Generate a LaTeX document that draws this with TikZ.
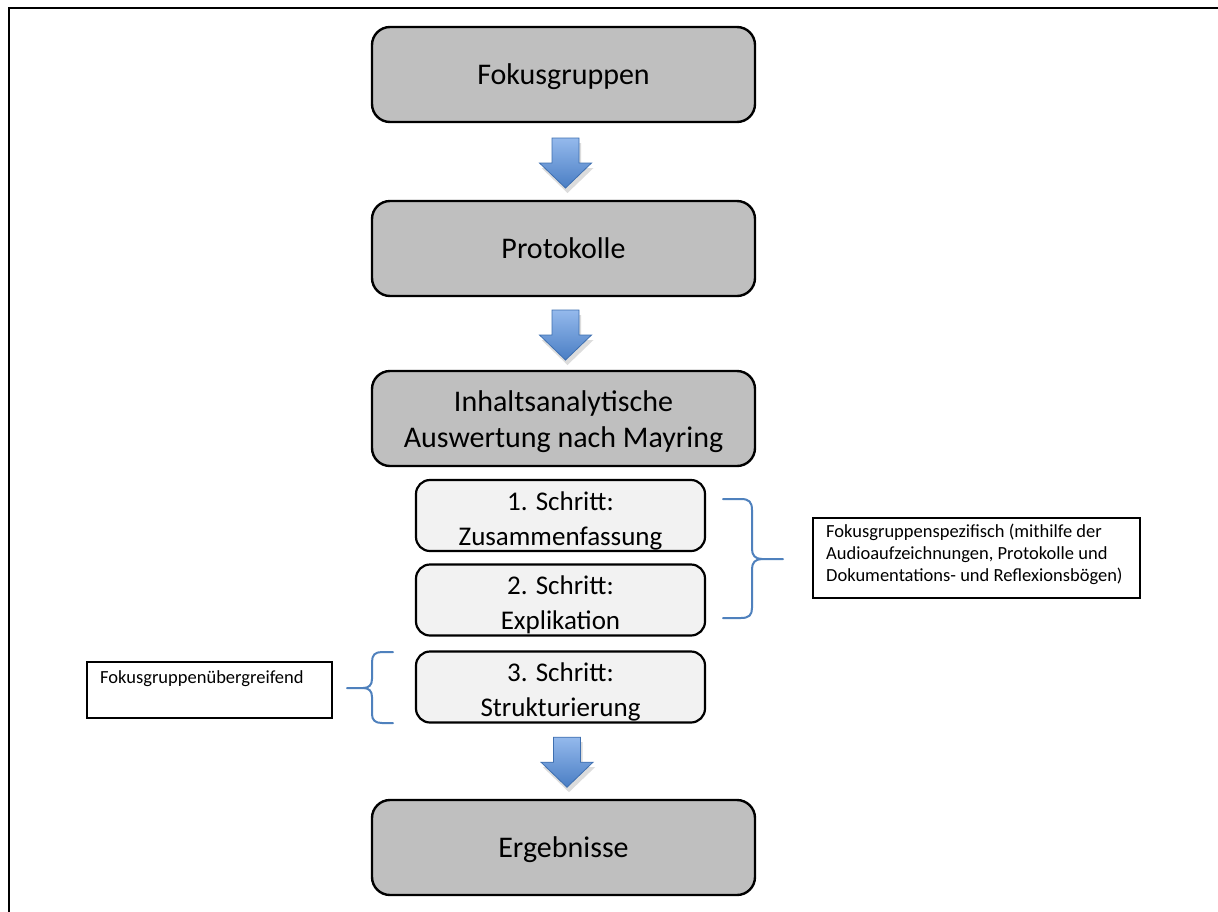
\documentclass[tikz,border=0pt]{standalone}
\usepackage{fontspec}
\setmainfont{Carlito}
\usetikzlibrary{calc}
\definecolor{boxgray}{HTML}{BFBFBF}
\definecolor{lightbox}{HTML}{F2F2F2}
\definecolor{bracecol}{HTML}{4F81BD}
\definecolor{arrtop}{HTML}{94B9EC}
\definecolor{arrbot}{HTML}{4A7EC4}
\definecolor{arrline}{HTML}{3E6FB0}
\newcommand{\boxtext}[2]{\raisebox{-#1}[\height][\depth]{\begin{tabular}{@{}c@{}}#2\end{tabular}}}
\tikzset{
  bigbox/.style={draw=black, line width=2.4pt, fill=boxgray, rounded corners=18pt,
    minimum width=383pt, minimum height=95pt, inner sep=0pt,
    font=\fontsize{30}{36}\selectfont},
  smallbox/.style={draw=black, line width=2.2pt, fill=lightbox, rounded corners=14pt,
    minimum width=289pt, minimum height=71pt, inner sep=0pt,
    font=\fontsize{27}{35}\selectfont},
  notebox/.style={draw=black, line width=2pt, fill=white, inner sep=0pt},
  notetext/.style={anchor=north west, align=left, inner sep=0pt,
    font=\fontsize{18.5}{22}\selectfont},
  bracepath/.style={draw=bracecol, line width=2pt, line cap=round},
  frameline/.style={draw=black, line width=1.6pt},
}
\newcommand{\blockarrow}[1]{%
  \fill[gray!45, opacity=0.6] ($(#1)+(-12.5,-23)+(2,3)$) -- ($(#1)+(14.5,-23)+(2,3)$) -- ($(#1)+(14.5,2)+(2,3)$) -- ($(#1)+(27,2)+(2,3)$) -- ($(#1)+(1,27)+(2,3)$) -- ($(#1)+(-25,2)+(2,3)$) -- ($(#1)+(-12.5,2)+(2,3)$) -- cycle;
  \draw[arrline, line width=0.8pt, top color=arrtop, bottom color=arrbot]
    ($(#1)+(-12.5,-25)$) -- ($(#1)+(14.5,-25)$) -- ($(#1)+(14.5,0)$) -- ($(#1)+(27,0)$) -- ($(#1)+(1,25)$) -- ($(#1)+(-25,0)$) -- ($(#1)+(-12.5,0)$) -- cycle;}
\begin{document}
\begin{tikzpicture}[x=1pt, y=-1pt]
\useasboundingbox (0,0) rectangle (1218,911);
\fill[white] (0,0) rectangle (1218,911);
% frame
\draw[frameline] (1220,8) -- (9,8) -- (9,913);
% main boxes
\node[bigbox] (fok) at (563.5,74.5) {\boxtext{3pt}{Fokusgruppen}};
\node[bigbox] (prot) at (563.5,248.5) {\boxtext{3pt}{Protokolle}};
\node[bigbox] (inh) at (563.5,418.5) {\boxtext{4pt}{Inhaltsanalytische\\Auswertung nach Mayring}};
\node[smallbox] (s1) at (560.5,515.5) {\boxtext{5pt}{1. Schritt:\\Zusammenfassung}};
\node[smallbox] (s2) at (560.5,600) {\boxtext{5pt}{2. Schritt:\\Explikation}};
\node[smallbox] (s3) at (560.5,687) {\boxtext{5pt}{3. Schritt:\\Strukturierung}};
\node[bigbox] (erg) at (563.5,847.5) {\boxtext{3pt}{Ergebnisse}};
% block arrows
\coordinate (a1) at ($(fok.south)!0.5!(prot.north)+(1,1.5)$);
\coordinate (a2) at ($(prot.south)!0.5!(inh.north)+(1,1.5)$);
\coordinate (a3) at ($(s3.south)!0.5!(erg.north)+(4,1)$);
\blockarrow{a1}
\blockarrow{a2}
\blockarrow{a3}
% right note
\node[notebox, minimum width=327pt, minimum height=80pt] (nr) at (976.5,558) {};
\node[notetext] (nrt) at (826,524) {Fokusgruppenspezifisch (mithilfe der\\Audioaufzeichnungen, Protokolle und\\Dokumentations- und Reflexionsbögen)};
% left note
\node[notebox, minimum width=245pt, minimum height=56pt] (nl) at (209.5,690) {};
\node[notetext] (nlt) at (100,670) {Fokusgruppenübergreifend};
% right brace
\draw[bracepath] (723,499) -- (741,499) .. controls (749,499) and (752,502) .. (752,510) -- (752,549) .. controls (752,555) and (755,559) .. (762,559) -- (783,559);
\draw[bracepath] (762,559) .. controls (755,559) and (752,563) .. (752,569) -- (752,608) .. controls (752,615) and (749,618) .. (741,618) -- (723,618);
% left brace
\draw[bracepath] (393,652) -- (382,652) .. controls (375,652) and (372,655) .. (372,662) -- (372,679) .. controls (372,685) and (369,688) .. (363,688) -- (347,688);
\draw[bracepath] (363,688) .. controls (369,688) and (372,691) .. (372,697) -- (372,714) .. controls (372,720) and (375,723) .. (382,723) -- (393,723);
\end{tikzpicture}
\end{document}
